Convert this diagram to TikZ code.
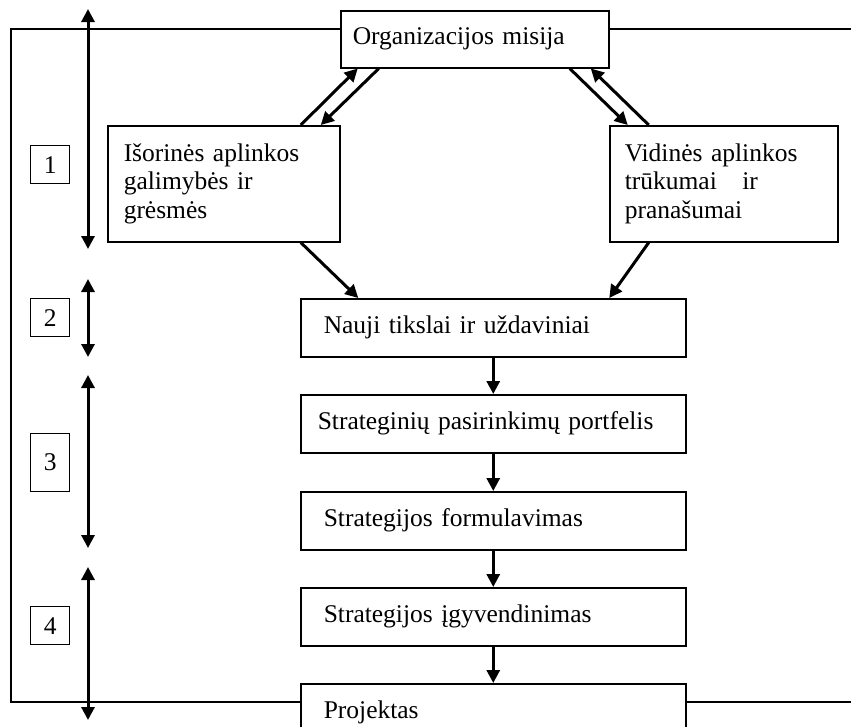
\documentclass[tikz,border=0pt]{standalone}
\usepackage{fontspec}
\setmainfont{Liberation Serif}
\usetikzlibrary{arrows.meta}
\tikzset{
  box/.style={draw,line width=1.5pt,fill=white,anchor=north west,align=left,
              inner ysep=0pt,font=\fontsize{25.5}{28.5}\selectfont},
  stage/.style={box,minimum height=58pt,inner xsep=23pt,text width=339pt},
  env/.style={box,minimum height=116pt,inner xsep=16pt},
  numbox/.style={draw,line width=1.3pt,anchor=north west,minimum width=39pt,
                 minimum height=38pt,inner sep=0pt,font=\fontsize{25.5}{28}\selectfont},
  arr/.style={-{Triangle[length=13pt,width=13pt]},line width=3pt},
  span/.style={{Triangle[length=13pt,width=13pt]}-{Triangle[length=13pt,width=13pt]},line width=3pt},
}
\begin{document}
\begin{tikzpicture}[x=1pt,y=-1pt]
    \useasboundingbox (0,0) rectangle (851,726);
    % outer frame
    \draw[line width=1.4pt] (851,29) -- (11,29) -- (11,702) -- (851,702);
    \node[box,minimum height=57pt,inner xsep=12pt,text width=244pt] (misija) at (340,10) {Organizacijos misija};
    \node[env,text width=200pt] (iso) at (107,125) {Išorinės aplinkos\\galimybės ir\\grėsmės};
    \node[env,inner xsep=15pt,text width=198pt] (vid) at (609,125) {Vidinės aplinkos\\trūkumai\ \ \ ir\\pranašumai};
    \node[stage] (nauji) at (300,298) {Nauji tikslai ir uždaviniai};
    \node[stage,inner xsep=17pt,text width=351pt] (strat) at (300,394) {Strateginių pasirinkimų portfelis};
    \node[stage] (form) at (300,491) {Strategijos formulavimas};
    \node[stage] (igyv) at (300,587) {Strategijos įgyvendinimas};
    \node[stage] (proj) at (300,683) {Projektas};
    % stage numbers
    \node[numbox] (n1) at (30,145) {1};
    \node[numbox] (n2) at (30,298) {2};
    \node[numbox,minimum height=58pt] (n3) at (30,433) {3};
    \node[numbox] (n4) at (30,606) {4};
    \draw[span] (88,9) -- (88,249);
    \draw[span] (88,279) -- (88,357);
    \draw[span] (88,375) -- (88,548);
    \draw[span] (88,567) -- (88,720);
    % connectors
    \draw[arr] ([xshift=77pt]iso.north) -- ([xshift=-117pt]misija.south);
    \draw[arr] ([xshift=-96pt]misija.south) -- ([xshift=97pt]iso.north);
    \draw[arr] ([xshift=95pt]misija.south) -- ([xshift=-96pt]vid.north);
    \draw[arr] ([xshift=-75pt]vid.north) -- ([xshift=116pt]misija.south);
    \draw[arr] ([xshift=77pt]iso.south) -- ([xshift=-135pt]nauji.north);
    \draw[arr] ([xshift=-75pt]vid.south) -- ([xshift=116pt]nauji.north);
    \draw[arr] (nauji) -- (strat);
    \draw[arr] (strat) -- (form);
    \draw[arr] (form) -- (igyv);
    \draw[arr] (igyv) -- (proj);
\end{tikzpicture}
\end{document}
